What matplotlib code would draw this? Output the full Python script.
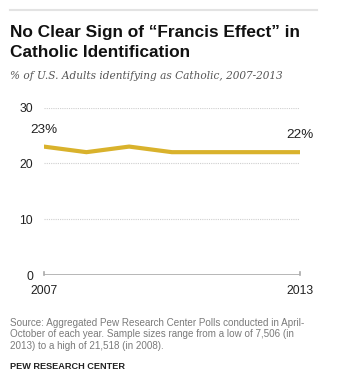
import matplotlib
matplotlib.use("Agg")
import matplotlib.pyplot as plt
from matplotlib.lines import Line2D

years = [2007, 2008, 2009, 2010, 2011, 2012, 2013]
catholic_pct = [23, 22, 23, 22, 22, 22, 22]
y_ticks = [0, 10, 20, 30]
x_tick_labels = ["2007", "2013"]

W, H = 353, 384
fig = plt.figure(figsize=(W / 100, H / 100), dpi=100)
fig.patch.set_facecolor("white")

def fx(px):
    return px / W

def fy(py):
    return 1 - py / H

sans = ["Liberation Sans", "DejaVu Sans"]
gold = "#D9B22C"

# top rule
fig.add_artist(Line2D([fx(10), fx(317)], [fy(10), fy(10)], color="#E3E3E3", lw=1.5))

fig.text(fx(10), fy(36.7), "No Clear Sign of \u201cFrancis Effect\u201d in", fontsize=12.4,
         fontweight="bold", family=sans, color="#111111", va="baseline", ha="left")
fig.text(fx(10), fy(56.7), "Catholic Identification", fontsize=12.4,
         fontweight="bold", family=sans, color="#111111", va="baseline", ha="left")
fig.text(fx(10), fy(79), "% of U.S. Adults identifying as Catholic, 2007-2013", fontsize=7.6,
         style="italic", family=["DejaVu Serif", "Liberation Serif"], color="#555555",
         va="baseline", ha="left")

left, right = 43.7, 300
top, bottom = 107.5, 275
ax = fig.add_axes([fx(left), fy(bottom), fx(right) - fx(left), (bottom - top) / H])
ax.set_xlim(years[0], years[-1])
ax.set_ylim(0, 30)
for s in ax.spines.values():
    s.set_visible(False)
ax.set_facecolor("none")

for v in y_ticks[1:]:
    ax.axhline(v, color="#CFCFCF", lw=0.8, ls=(0, (1, 1)), zorder=1)
ax.axhline(0, color="#AAAAAA", lw=1.2, zorder=1)
ax.plot([years[0], years[0]], [0, 0.55], color="#AAAAAA", lw=1.2, clip_on=False)
ax.plot([years[-1], years[-1]], [0, 0.55], color="#AAAAAA", lw=1.2, clip_on=False)

ax.plot(years, catholic_pct, color=gold, lw=3, solid_joinstyle="miter", zorder=3)

ax.set_yticks(y_ticks)
ax.set_yticklabels([str(v) for v in y_ticks], fontsize=8.7, family=sans, color="#222222")
ax.set_xticks([years[0], years[-1]])
ax.set_xticklabels(x_tick_labels, fontsize=8.7, family=sans, color="#222222")
ax.tick_params(axis="both", length=0)
ax.tick_params(axis="y", pad=7.7)
ax.tick_params(axis="x", pad=7)

ax.annotate(f"{catholic_pct[0]}%", (years[0], catholic_pct[0]), xytext=(0, 17),
            textcoords="offset pixels", ha="center", va="center", fontsize=9.7,
            family=sans, color="#222222")
ax.annotate(f"{catholic_pct[-1]}%", (years[-1], catholic_pct[-1]), xytext=(0, 17),
            textcoords="offset pixels", ha="center", va="center", fontsize=9.7,
            family=sans, color="#222222")

src = ["Source: Aggregated Pew Research Center Polls conducted in April-",
       "October of each year. Sample sizes range from a low of 7,506 (in",
       "2013) to a high of 21,518 (in 2008)."]
for i, line in enumerate(src):
    fig.text(fx(10), fy(322.7 + 11.5 * i), line, fontsize=7.1, family=sans,
             color="#7A7A7A", va="center", ha="left")
fig.text(fx(10), fy(366.7), "PEW RESEARCH CENTER", fontsize=6.6, fontweight="bold",
         family=sans, color="#222222", va="center", ha="left")

fig.savefig("out.png", dpi=100, facecolor="white")
